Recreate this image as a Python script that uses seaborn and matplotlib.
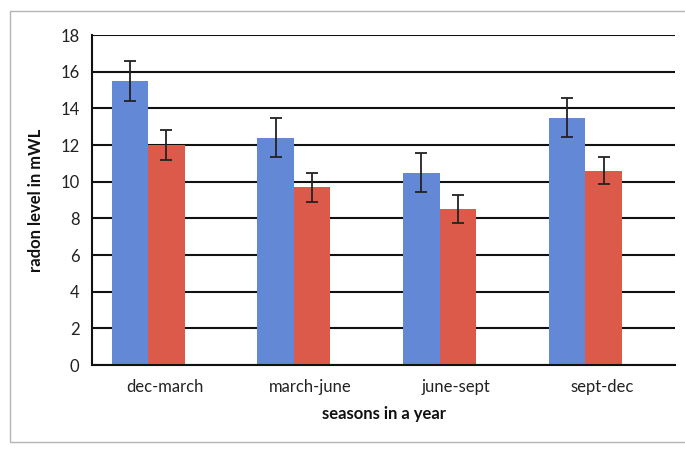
import matplotlib
matplotlib.use("Agg")
import matplotlib.pyplot as plt
from matplotlib.patches import Rectangle
import seaborn as sns
import pandas as pd
import numpy as np

seasons = ["dec-march", "march-june", "june-sept", "sept-dec"]
series_a = [15.5, 12.4, 10.5, 13.5]
series_b = [12.0, 9.7, 8.5, 10.6]
err_a = [1.1, 1.05, 1.05, 1.05]
err_b = [0.8, 0.8, 0.75, 0.75]
y_ticks = [0, 2, 4, 6, 8, 10, 12, 14, 16, 18]

df = pd.DataFrame({
    "season": seasons * 2,
    "series": ["A"] * 4 + ["B"] * 4,
    "value": series_a + series_b,
    "err": err_a + err_b,
})

sns.set_theme(style="white")
plt.rcParams["font.family"] = ["Lato", "DejaVu Sans"]

fig = plt.figure(figsize=(6.85, 4.53), dpi=100)
fig.patch.set_facecolor("white")
fig.patches.append(Rectangle((10 / 685, 11 / 453), 680 / 685, 431 / 453,
                             transform=fig.transFigure, fill=False,
                             edgecolor="#b5b5b5", linewidth=1.0))
ax = fig.add_axes([92 / 685, 1 - 365 / 453, 583 / 685, 330 / 453])

palette = {"A": "#6388d6", "B": "#dc5a4a"}
sns.barplot(data=df, x="season", y="value", hue="series", order=seasons,
            hue_order=["A", "B"], palette=palette, errorbar=None,
            width=0.5, saturation=1, legend=False, linewidth=0, ax=ax)

# error bars centered on each drawn bar
for patch, (val, er) in zip(ax.patches, zip(series_a + series_b, err_a + err_b)):
    cx = patch.get_x() + patch.get_width() / 2
    ax.errorbar(cx, patch.get_height(), yerr=er, fmt="none", ecolor="#222222",
                elinewidth=1.3, capsize=4, capthick=1.3, zorder=5)

# the scanned original has the bar groups sitting a little left of the labels
shift = 0.115
ax.set_ylim(0, 18)
ax.set_xlim(-0.5 + shift, 3.5 + shift)
ax.set_yticks(y_ticks)
ax.set_yticklabels([str(t) for t in y_ticks], fontsize=12, color="#222222")
ax.tick_params(axis="y", direction="out", length=6, width=1.3, color="#111111", pad=3)
ax.set_xticks([i + shift for i in range(4)])
ax.set_xticklabels(seasons, fontsize=12, color="#222222")
ax.tick_params(axis="x", which="major", length=0, pad=10)
ax.set_xticks([i + 0.5 + shift for i in range(4)], minor=True)
ax.tick_params(axis="x", which="minor", direction="out", length=6, width=1.3, color="#111111")

ax.yaxis.grid(True, color="#111111", linewidth=1.5)
ax.set_axisbelow(True)
for s in ["top", "right"]:
    ax.spines[s].set_visible(False)
for s in ["left", "bottom"]:
    ax.spines[s].set_color("#111111")
    ax.spines[s].set_linewidth(1.5)

ax.set_ylabel("radon level in mWL", fontsize=12, fontweight="bold", color="#111111", labelpad=12)
ax.set_xlabel("seasons in a year", fontsize=12, fontweight="bold", color="#111111", labelpad=8)

fig.savefig("out.png", dpi=100)
